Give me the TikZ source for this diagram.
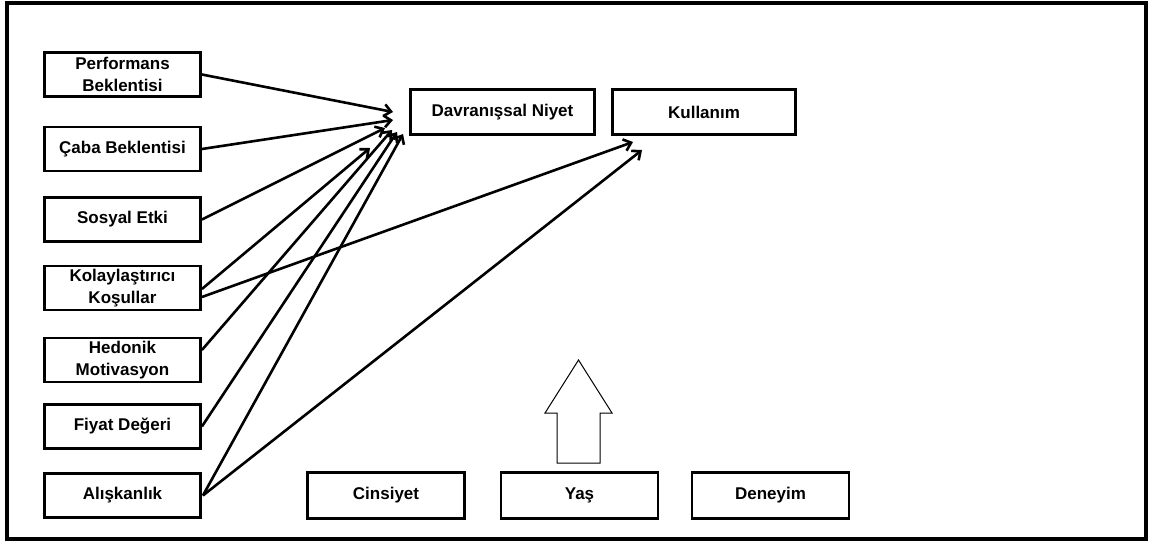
\documentclass[tikz,border=0pt]{standalone}
\usepackage{fontspec}
\setmainfont{Liberation Sans}
\usetikzlibrary{arrows.meta,calc}
\begin{document}
\begin{tikzpicture}[x=1pt,y=-1pt,
  box/.style={draw,line width=2.8pt,inner sep=0pt,align=center,
    font=\fontsize{17}{21.5}\selectfont\bfseries},
  leftbox/.style={box,minimum width=156pt,minimum height=44pt},
  topbox/.style={box,minimum height=45pt},
  botbox/.style={box,minimum width=157pt,minimum height=46pt},
  link/.style={line width=2.6pt,-{Straight Barb[length=7pt,width=12pt]}}]
\useasboundingbox (0,0) rectangle (1150,544);
% outer frame
\draw[line width=4.5pt] (7,3) rectangle (1146,539);

% predictors
\node[leftbox] (perf) at (122.5,74.5) {Performans\\Beklentisi};
\node[leftbox] (caba) at (122.5,149) {Çaba Beklentisi};
\node[leftbox] (sos)  at (122.5,219.5) {Sosyal Etki};
\node[leftbox] (kol)  at (122.5,288) {Kolaylaştırıcı\\Koşullar};
\node[leftbox] (hed)  at (122.5,360) {Hedonik\\Motivasyon};
\node[leftbox] (fiy)  at (122.5,426.5) {Fiyat Değeri};
\node[leftbox] (alis) at (122.5,495.5) {Alışkanlık};

% outcomes
\node[topbox,minimum width=184pt] (dn)  at (502.5,112) {Davranışsal Niyet};
\node[topbox,minimum width=183pt] (kul) at (704,112) {Kullanım};

% moderators
\node[botbox] (cins) at (386,495.5) {Cinsiyet};
\node[botbox] (yas)  at (579.5,495.5) {Yaş};
\node[botbox] (den)  at (770.5,495.5) {Deneyim};

% moderation arrow
\draw[line width=1pt] (557,463) -- (557,413) -- (545,413) -- (578.5,360)
  -- (612,413) -- (600,413) -- (600,463) -- cycle;

% arrow ends
\coordinate (t1) at (393,112);
\coordinate (t2) at (393,120);
\coordinate (t3) at (385,128);
\coordinate (t4) at (370,148);
\coordinate (t5) at (392,130);
\coordinate (t6) at (397,132);
\coordinate (t7) at (403,134);
\coordinate (u1) at (633,142);
\coordinate (u2) at (642,150);

% paths to Davranışsal Niyet
\draw[link] (perf.east) -- (t1);
\draw[link] (caba.east) -- (t2);
\draw[link] (sos.east) -- (t3);
\draw[link] ($(kol.east)+(0,1)$) -- (t4);
\draw[link] ($(hed.east)+(0,-10)$) -- (t5);
\draw[link] (fiy.east) -- (t6);
\draw[link] ($(alis.east)+(1,0)$) -- (t7);

% paths to Kullanım
\draw[link] ($(kol.east)+(0,9)$) -- (u1);
\draw[link] ($(alis.east)+(1,0)$) -- (u2);
\end{tikzpicture}
\end{document}
